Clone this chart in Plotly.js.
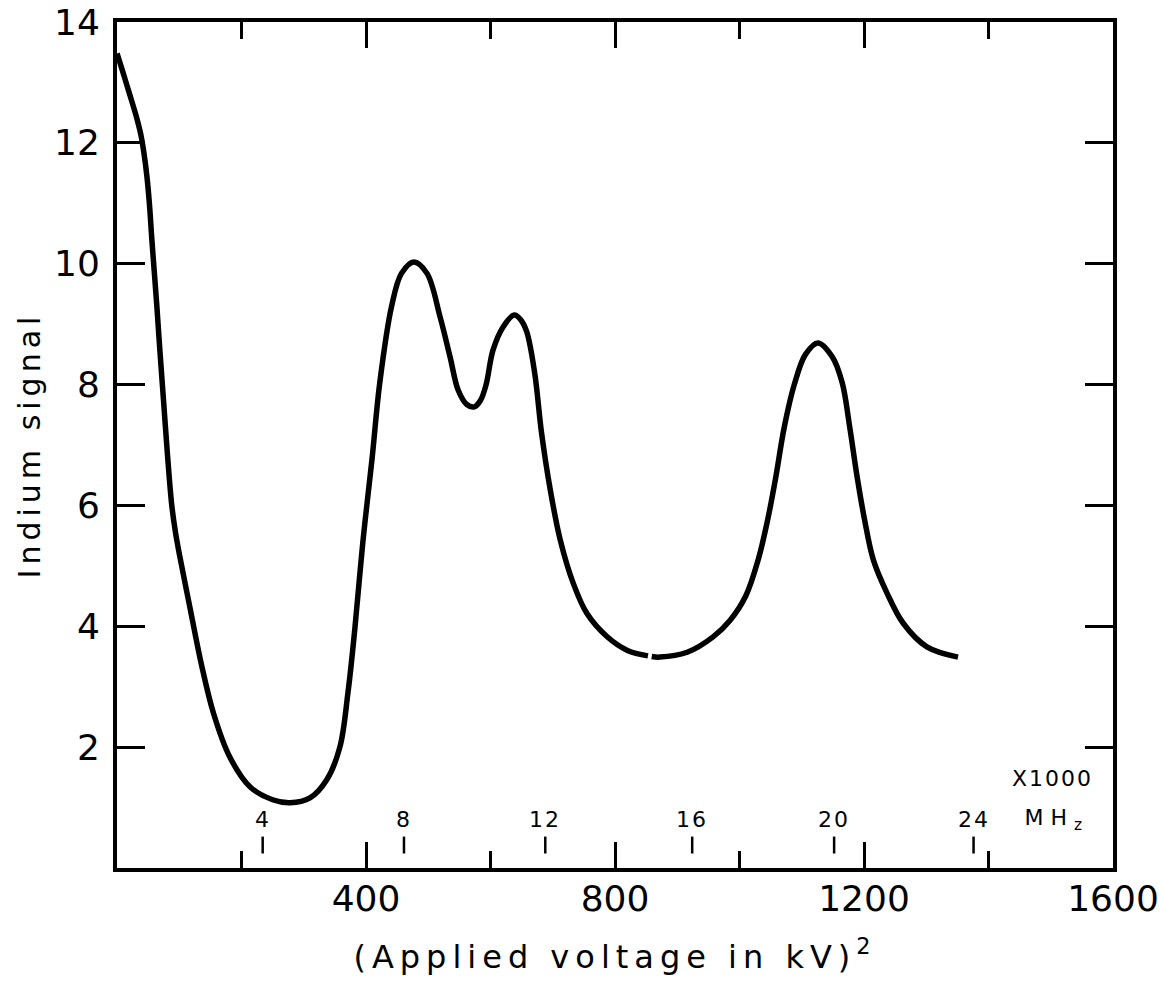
<!DOCTYPE html>
<html>
<head>
<meta charset="utf-8">
<script src="https://cdn.plot.ly/plotly-3.0.1.min.js"></script>
<style>
  html, body { margin: 0; padding: 0; background: #fff; }
  #chart { width: 1162px; height: 995px; }
  .g-xtitle text { letter-spacing: 6px; }
  .g-ytitle text { letter-spacing: 5px; }
  .annotation text { letter-spacing: 2px; }
  .annotation[data-index="7"] text { letter-spacing: 7px; }
</style>
</head>
<body>
<div id="chart"></div>
<script>
// Curve: x = (applied voltage in kV)^2, y = indium signal
const voltSq = [0, 8, 16, 24, 32, 38, 43, 48, 52, 56, 60, 64, 69, 75, 81, 88, 94, 101, 117, 136, 155, 181, 214, 250, 278, 310, 337, 358, 371, 382, 395, 410, 422, 441, 457, 477, 498, 519, 535, 548, 562, 574, 584, 593, 604, 620, 638, 648, 658, 671, 682, 696, 712, 733, 755, 787, 820, 853, 856, 859, 872, 916, 957, 985, 1010, 1030, 1045, 1058, 1072, 1088, 1106, 1126, 1149, 1165, 1177, 1189, 1201, 1215, 1237, 1263, 1301, 1351];
const signal = [13.48, 13.22, 12.95, 12.68, 12.4, 12.15, 11.85, 11.45, 11.0, 10.4, 9.85, 9.3, 8.55, 7.7, 6.85, 6.0, 5.55, 5.15, 4.32, 3.35, 2.56, 1.84, 1.34, 1.13, 1.08, 1.16, 1.46, 2.0, 2.9, 3.95, 5.4, 6.8, 8.02, 9.29, 9.84, 10.03, 9.84, 9.12, 8.46, 7.91, 7.67, 7.63, 7.74, 8.0, 8.57, 8.95, 9.15, 9.08, 8.88, 8.19, 7.2, 6.26, 5.43, 4.71, 4.21, 3.83, 3.6, 3.51, null, 3.5, 3.49, 3.57, 3.82, 4.1, 4.5, 5.1, 5.75, 6.45, 7.3, 8.0, 8.5, 8.69, 8.46, 8.03, 7.3, 6.47, 5.76, 5.1, 4.55, 4.05, 3.66, 3.49];

// Main axis ticks
const xTickVals = [400, 800, 1200, 1600];
const yTickVals = [2, 4, 6, 8, 10, 12, 14];

// Secondary frequency scale (x1000 MHz) positioned on the (kV)^2 axis
const freqLabels = ['4', '8', '12', '16', '20', '24'];
const freqPos = [234, 461, 688, 924, 1152, 1376];

const FONT = 'DejaVu Sans, sans-serif';

const shapes = freqPos.map(p => ({
  type: 'line', xref: 'x', yref: 'y',
  x0: p, x1: p, y0: 0.24, y1: 0.52,
  line: { color: '#000', width: 2.5 }
}));

const annotations = freqPos.map((p, i) => ({
  xref: 'x', yref: 'y', x: p, y: 0.8,
  text: freqLabels[i], showarrow: false,
  font: { family: FONT, size: 22, color: '#000' },
  xanchor: 'center', yanchor: 'middle'
}));
annotations.push({
  xref: 'x', yref: 'y', x: 1502, y: 1.48,
  text: 'X1000', showarrow: false,
  font: { family: FONT, size: 22, color: '#000' },
  xanchor: 'center', yanchor: 'middle'
});
annotations.push({
  xref: 'x', yref: 'y', x: 1510, y: 0.8,
  text: 'MH<sub>z</sub>', showarrow: false,
  font: { family: FONT, size: 22, color: '#000' },
  xanchor: 'center', yanchor: 'middle'
});

const trace = {
  x: voltSq, y: signal, type: 'scatter', mode: 'lines',
  line: { color: '#000', width: 5.5, shape: 'spline', smoothing: 1.0 },
  connectgaps: false, hoverinfo: 'skip'
};

const layout = {
  width: 1162, height: 995,
  margin: { l: 117, r: 49, t: 22, b: 127 },
  paper_bgcolor: '#fff', plot_bgcolor: '#fff',
  showlegend: false,
  font: { family: FONT, color: '#000' },
  xaxis: {
    range: [0, 1600], showgrid: false, zeroline: false,
    showline: true, linecolor: '#000', linewidth: 4, mirror: 'allticks',
    tickmode: 'array', tickvals: xTickVals, ticktext: xTickVals.map(String),
    ticks: 'inside', ticklen: 26, tickwidth: 3, tickcolor: '#000',
    minor: { dtick: 200, tick0: 0, ticks: 'inside', ticklen: 17, tickwidth: 3, tickcolor: '#000', showgrid: false },
    tickfont: { family: FONT, size: 36, color: '#000' },
    ticklabelstandoff: -4,
    title: { text: '(Applied voltage in kV)<sup>2</sup>', font: { family: FONT, size: 32, color: '#000' }, standoff: 28 }
  },
  yaxis: {
    range: [0, 14], showgrid: false, zeroline: false,
    showline: true, linecolor: '#000', linewidth: 4, mirror: 'allticks',
    tickmode: 'array', tickvals: yTickVals, ticktext: yTickVals.map(String),
    ticks: 'inside', ticklen: 28, tickwidth: 3, tickcolor: '#000',
    tickfont: { family: FONT, size: 36, color: '#000' },
    ticklabelstandoff: 6,
    title: { text: 'Indium signal', font: { family: FONT, size: 30, color: '#000' }, standoff: 5 }
  },
  shapes: shapes,
  annotations: annotations
};

Plotly.newPlot('chart', [trace], layout, { displayModeBar: false, staticPlot: true });
</script>
</body>
</html>
